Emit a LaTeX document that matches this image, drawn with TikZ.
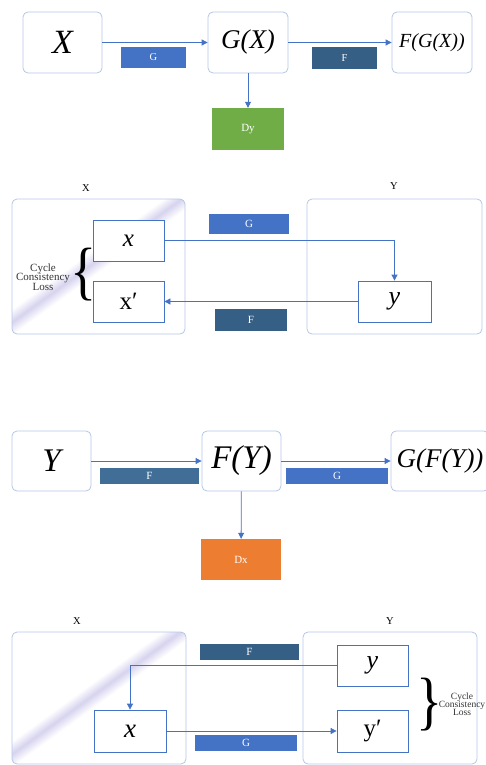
\documentclass[tikz,border=0pt]{standalone}
\usepackage{fontspec}
\setmainfont{Liberation Serif}
\usetikzlibrary{arrows.meta}

\definecolor{softblue}{HTML}{B4C7E7}
\definecolor{midblue}{HTML}{4472C4}
\definecolor{deepblue}{HTML}{365F86}
\definecolor{steelblue}{HTML}{416E96}
\definecolor{leafgreen}{HTML}{70AD47}
\definecolor{warmorange}{HTML}{ED7D31}
\definecolor{glarecol}{HTML}{D6D3EE}

\pgfdeclarehorizontalshading{glare}{100bp}{color(0bp)=(white); color(44.5bp)=(white); color(48bp)=(glarecol); color(51.5bp)=(white); color(100bp)=(white)}

\newcommand{\fs}[1]{\fontsize{#1}{#1}\selectfont}

\tikzset{
    plainbox/.style={draw=softblue, fill=white, rounded corners=5pt, line width=0.8pt, inner sep=0pt},
    domainbox/.style={draw=softblue, rounded corners=5pt, line width=0.8pt, inner sep=0pt},
    glarebox/.style={domainbox,
        path picture={\shade[shading=glare, shading angle=-54]
            (path picture bounding box.south west) rectangle (path picture bounding box.north east);}},
    itembox/.style={draw=midblue, fill=white, line width=0.8pt, inner sep=0pt},
    gatetag/.style={fill=#1, text=white, inner sep=0pt, font=\fs{11}},
    mapline/.style={draw=midblue, line width=0.8pt, -{Triangle[length=6pt,width=6pt]}},
    heading/.style={font=\fs{10.5}},
    lossnote/.style={align=center, text=black!80},
    bracemark/.style={inner sep=0pt, font=\fs{64}, xscale=0.85},
}

\begin{document}
\begin{tikzpicture}[x=1pt,y=-1pt]
    \clip (0,0) rectangle (486,765);

    \node[plainbox, minimum width=79, minimum height=61, font=\fs{34}\itshape] (X1) at (62.5,42.5) {X};
    \node[plainbox, minimum width=80, minimum height=61, font=\fs{27}\itshape] (GX) at (248,42.5) {G(X)};
    \node[plainbox, minimum width=80, minimum height=61, font=\fs{20}\itshape] (FGX) at (432,42.5) {F(G(X))};
    \node[gatetag=leafgreen, minimum width=72, minimum height=42] (Dy) at (248,129) {Dy};

    \draw[mapline] (X1) -- (GX);
    \draw[mapline] (GX) -- (FGX);
    \draw[mapline] (GX) -- (Dy);

    \node[gatetag=midblue, minimum width=65, minimum height=21, font=\fs{10.5}] (tagG1) at (153.5,57.5) {G};
    \node[gatetag=deepblue, minimum width=65, minimum height=22, font=\fs{10.5}] (tagF1) at (344.5,58) {F};

    \node[heading] (hdX2) at (86,188) {X};
    \node[heading] (hdY2) at (394,186) {Y};
    \node[glarebox, minimum width=173, minimum height=135] (domX2) at (98.5,266.5) {};
    \node[domainbox, minimum width=175, minimum height=135] (domY2) at (394.5,266.5) {};

    \node[itembox, minimum width=71, minimum height=41, font=\fs{25}\itshape] (x2) at (128.5,240.5) {x};
    \node[itembox, minimum width=71, minimum height=41, font=\fs{25}] (xp2) at (128.5,301.5) {x′};
    \node[itembox, minimum width=73, minimum height=41, font=\fs{26}\itshape] (y2) at (394.5,301.5) {y};

    \draw[mapline] (x2.east) -| (y2.north);
    \draw[mapline] (y2.west) -- (xp2.east);

    \node[gatetag=midblue, minimum width=80, minimum height=20] (tagG2) at (249,224) {G};
    \node[gatetag=deepblue, minimum width=72, minimum height=22] (tagF2) at (251,320) {F};

    \node[bracemark] (br2) at (84,274.5) {\{};
    \node[lossnote, font=\fs{11}] (loss2) at (43,277) {Cycle\\[-1.5pt]Consistency\\[-1.5pt]Loss};

    \node[plainbox, minimum width=79, minimum height=60, font=\fs{33}\itshape] (Y3) at (51.5,461) {Y};
    \node[plainbox, minimum width=79, minimum height=60, font=\fs{33}\itshape] (FY) at (241.5,461) {F(Y)};
    \node[plainbox, minimum width=98, minimum height=60, font=\fs{27}\itshape] (GFY) at (440,461) {G(F(Y))};
    \node[gatetag=warmorange, minimum width=80, minimum height=41] (Dx) at (241,559.5) {Dx};

    \draw[mapline] (Y3) -- (FY);
    \draw[mapline] (FY) -- (GFY);
    \draw[mapline] (FY) -- (Dx);

    \node[gatetag=steelblue, minimum width=99, minimum height=16] (tagF3) at (149.5,476) {F};
    \node[gatetag=midblue, minimum width=102, minimum height=16] (tagG3) at (337,476) {G};

    \node[heading] (hdX4) at (77,621) {X};
    \node[heading] (hdY4) at (390,621) {Y};
    \node[glarebox, minimum width=174, minimum height=132] (domX4) at (99,698) {};
    \node[domainbox, minimum width=174, minimum height=132] (domY4) at (390,698) {};

    \node[itembox, minimum width=71, minimum height=41, font=\fs{26}\itshape] (y4) at (372.5,665.5) {y};
    \node[itembox, minimum width=71, minimum height=42, font=\fs{25}] (yp4) at (372.5,731) {y′};
    \node[itembox, minimum width=72, minimum height=42, font=\fs{27}\itshape] (x4) at (130,731) {x};

    \draw[mapline] (y4.west) -| (x4.north);
    \draw[mapline] (x4.east) -- (yp4.west);

    \node[gatetag=deepblue, minimum width=99, minimum height=16] (tagF4) at (249.5,652) {F};
    \node[gatetag=midblue, minimum width=102, minimum height=16] (tagG4) at (246,743) {G};

    \node[bracemark] (br4) at (430,704.5) {\}};
    \node[lossnote, font=\fs{9.5}] (loss4) at (462,704) {Cycle\\[-1.5pt]Consistency\\[-1.5pt]Loss};
\end{tikzpicture}
\end{document}
